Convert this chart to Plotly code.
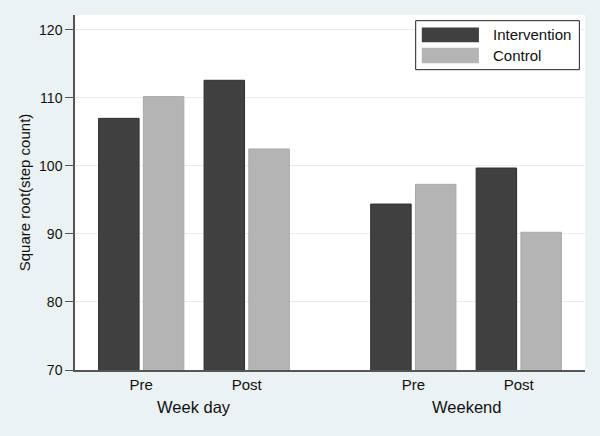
import plotly.graph_objects as go

# ---- data ----
groups = ["Week day", "Weekend"]
periods = ["Pre", "Post"]
series_names = ["Intervention", "Control"]
intervention = [107.0, 112.6, 94.4, 99.7]   # WD Pre, WD Post, WE Pre, WE Post
control = [110.2, 102.5, 97.3, 90.25]
colors = ["#404040", "#b4b4b4"]
line_colors = ["#2e2e2e", "#a8a8a8"]

# ---- layout of categories on a numeric axis ----
group_gap = 1.58  # extra spacing between the two groups (in category units)
xpos = []
for gi, g in enumerate(groups):
    for pi, p in enumerate(periods):
        xpos.append(gi * (len(periods) - 1 + group_gap) + pi)
ticktext = [p for g in groups for p in periods]

fig = go.Figure()
for name, vals, c, lc in zip(series_names, [intervention, control], colors, line_colors):
    fig.add_trace(go.Bar(
        x=xpos, y=vals, name=name, marker=dict(color=c, line=dict(color=lc, width=1)),
        showlegend=False, hoverinfo="skip",
    ))

font_fam = "Liberation Sans, Arial, sans-serif"
bg = "#eaf2f3"
fig.update_layout(
    width=600, height=436,
    margin=dict(l=75, r=15, t=15, b=66),
    paper_bgcolor=bg, plot_bgcolor="white",
    barmode="group", bargap=0.151, bargroupgap=0.096,
    font=dict(family=font_fam, color="#111111", size=14),
)
pad = 0.628
fig.update_xaxes(
    automargin=False,
    range=[xpos[0] - pad, xpos[-1] + pad],
    tickmode="array", tickvals=xpos, ticktext=ticktext,
    tickfont=dict(size=15), showgrid=False, zeroline=False,
    showline=True, linecolor="#555555", linewidth=1.5, ticks="", ticklen=0,
)
fig.update_yaxes(
    automargin=False,
    range=[70, 122.2], tickvals=[70, 80, 90, 100, 110, 120],
    showgrid=True, gridcolor="#e6eeef", gridwidth=1, zeroline=False,
    showline=True, linecolor="#555555", linewidth=1.5,
    ticks="outside", ticklen=8, tickcolor="#555555", tickwidth=1,
    tickfont=dict(size=14),
    title=dict(text="Square root(step count)", font=dict(size=15), standoff=5),
)

# group labels
for gi, g in enumerate(groups):
    gx = [xpos[gi * len(periods) + pi] for pi in range(len(periods))]
    fig.add_annotation(x=sum(gx) / len(gx), xref="x", y=-0.104, yref="paper",
                       text=g, showarrow=False, font=dict(size=16.5),
                       yanchor="middle", xanchor="center")

# custom legend
fig.add_shape(type="rect", xref="paper", yref="paper", x0=0.668, x1=0.989, y0=0.846, y1=0.984,
              line=dict(color="#222222", width=1), fillcolor="white")
sw = [(0.965, 0.923), (0.908, 0.864)]
for (y1, y0), name, c in zip(sw, series_names, colors):
    fig.add_shape(type="rect", xref="paper", yref="paper", x0=0.680, x1=0.792, y0=y0, y1=y1,
                  line=dict(width=0), fillcolor=c)
    fig.add_annotation(x=0.816, y=(y0 + y1) / 2, xref="paper", yref="paper", text=name,
                       showarrow=False, xanchor="left", yanchor="middle", font=dict(size=15))

fig.write_html("out.html", config={"displayModeBar": False},
               post_script="document.body.style.margin='0';document.body.style.overflow='hidden';")
